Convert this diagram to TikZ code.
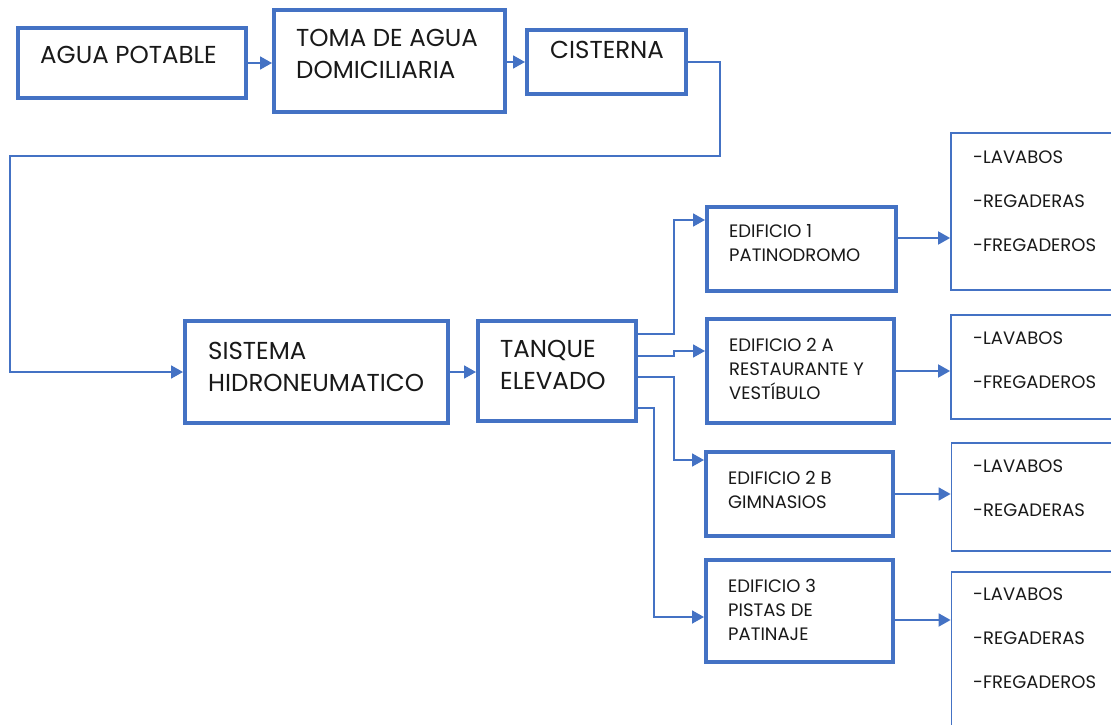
\documentclass[tikz,border=0pt]{standalone}
\usepackage{fontspec}
\setmainfont{Poppins}
\usetikzlibrary{arrows.meta,calc}
\definecolor{ob}{HTML}{4472C4}
\begin{document}
\begin{tikzpicture}[x=1pt,y=-1pt,
  box/.style={draw=ob,line width=4pt,inner sep=0pt},
  lbox/.style={draw=ob,line width=1.8pt,inner sep=0pt},
  bigt/.style={font=\fontsize{24.5}{32}\selectfont,align=left,anchor=north west,inner sep=0pt,text=black!90},
  smallt/.style={font=\fontsize{18}{24}\selectfont,align=left,anchor=north west,inner sep=0pt,text=black!90},
  listt/.style={font=\fontsize{18}{44}\selectfont,align=left,anchor=north west,inner sep=0pt,text=black!90},
  conn/.style={draw=ob,line width=1.8pt,-{Triangle[length=12pt,width=13pt]}}]
\useasboundingbox (0,0) rectangle (1111,725);
\fill[white] (0,0) rectangle (1111,725);

% main boxes
\node[box,minimum width=228pt,minimum height=70pt] (agua) at (132,63) {};
\node[box,minimum width=231pt,minimum height=102pt] (toma) at (389.5,61) {};
\node[box,minimum width=159pt,minimum height=64pt] (cist) at (606.5,62) {};
\node[box,minimum width=263pt,minimum height=102pt] (sist) at (316.5,372) {};
\node[box,minimum width=158pt,minimum height=100pt] (tanq) at (557,371) {};
\node[box,minimum width=189pt,minimum height=84pt] (e1) at (801.5,249) {};
\node[box,minimum width=187pt,minimum height=104pt] (e2a) at (800.5,371) {};
\node[box,minimum width=187pt,minimum height=84pt] (e2b) at (799.5,494) {};
\node[box,minimum width=187pt,minimum height=102pt] (e3) at (799.5,611) {};
% list boxes
\node[lbox,minimum width=179pt,minimum height=157pt] (l1) at (1040.5,211.5) {};
\node[lbox,minimum width=179pt,minimum height=104pt] (l2) at (1040.5,367) {};
\node[lbox,minimum width=179pt,minimum height=108pt] (l3) at (1041,497) {};
\node[lbox,minimum width=179pt,minimum height=168pt] (l4) at (1041,656) {};

% texts
\node[bigt] (taga) at (40,46.5) {AGUA POTABLE};
\node[bigt] (ttom) at (296,29.5) {TOMA DE AGUA\\DOMICILIARIA};
\node[bigt] (tcis) at (550,41.5) {CISTERNA};
\node[bigt] (tsis) at (208,341.5) {SISTEMA\\HIDRONEUMATICO};
\node[bigt] (ttan) at (500,340.5) {TANQUE\\ELEVADO};
\node[smallt] (te1) at (729,224.7) {EDIFICIO 1\\PATINODROMO};
\node[smallt] (te2a) at (729,337.7) {EDIFICIO 2 A\\RESTAURANTE Y\\VESTÍBULO};
\node[smallt] (te2b) at (728,470.7) {EDIFICIO 2 B\\GIMNASIOS};
\node[smallt] (te3) at (728,578.7) {EDIFICIO 3\\PISTAS DE\\PATINAJE};
\node[listt] (tl1) at (973,150.7) {-LAVABOS\\-REGADERAS\\-FREGADEROS};
\node[listt] (tl2) at (973,331.7) {-LAVABOS\\-FREGADEROS};
\node[listt] (tl3) at (973,459.7) {-LAVABOS\\-REGADERAS};
\node[listt] (tl4) at (973,587.7) {-LAVABOS\\-REGADERAS\\-FREGADEROS};

% connectors top row
\draw[conn] (agua.east) -- (agua.east -| toma.west);
\draw[conn] (cist.west -| toma.east) -- (cist.west);
\coordinate (c1) at (720,156);
\coordinate (c2) at (10,156);
\draw[conn] (cist.east) -| (c1) -- (c2) |- (sist.west);
\draw[conn] (sist.east) -- (sist.east -| tanq.west);

% forks from tanque
\path (tanq.north east) ++(0,15) coordinate (t1);
\path (tanq.north east) ++(0,37) coordinate (t2);
\path (tanq.north east) ++(0,58) coordinate (t3);
\path (tanq.north east) ++(0,89) coordinate (t4);
\path (e1.north west) ++(0,15) coordinate (e1in);
\path (e2a.north west) ++(0,34) coordinate (e2ain);
\path (e2b.north west) ++(0,10) coordinate (e2bin);
\path (e3.north west) ++(0,59) coordinate (e3in);
\draw[conn] (t1) -- ++(36,0) |- (e1in);
\draw[conn] (t2) -- ++(36,0) |- (e2ain);
\draw[conn] (t3) -- ++(36,0) |- (e2bin);
\draw[conn] (t4) -- ++(16,0) |- (e3in);

% to lists
\path (e1.north east) ++(0,33) coordinate (e1o);
\path (e3.east) ++(0,9) coordinate (e3o);
\draw[conn] (e1o) -- (e1o -| l1.west);
\draw[conn] (e2a.east) -- (e2a.east -| l2.west);
\draw[conn] (e2b.east) -- (e2b.east -| l3.west);
\draw[conn] (e3o) -- (e3o -| l4.west);
\end{tikzpicture}
\end{document}
